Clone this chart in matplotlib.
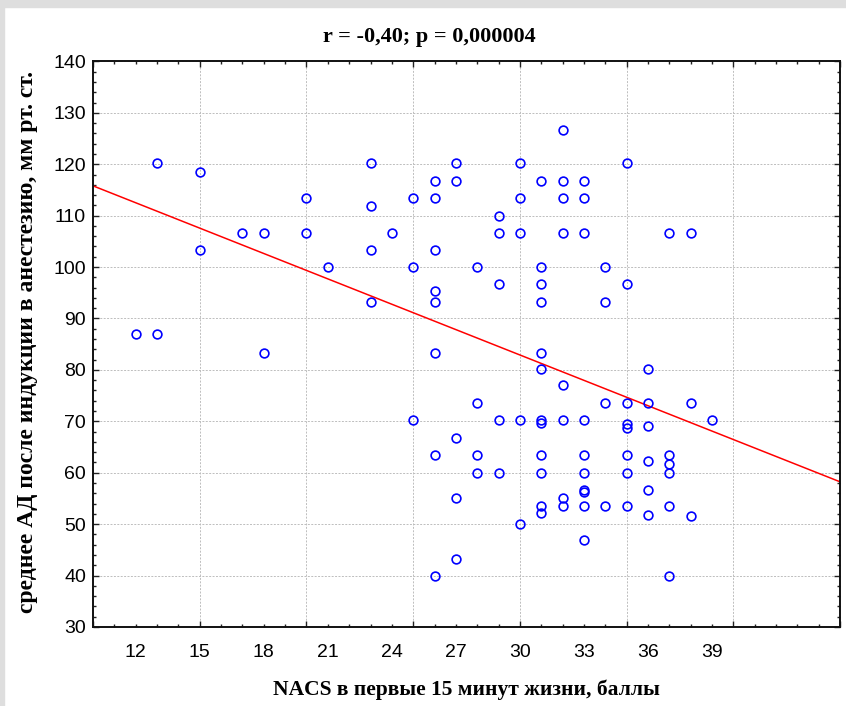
# scatter of NACS score vs mean BP after induction, with linear fit

import numpy as np
import matplotlib
matplotlib.use("Agg")
import matplotlib.pyplot as plt
from matplotlib.patches import Rectangle

# ============================================================
# DATA
# ============================================================

NACS = [12, 13, 13, 15, 15, 17, 18, 18, 20, 20,
        21, 23, 23, 23, 23, 24, 25, 25, 25, 26,
        26, 26, 26, 26, 26, 26, 26, 27, 27, 27,
        27, 27, 28, 28, 28, 28, 29, 29, 29, 29,
        29, 30, 30, 30, 30, 30, 31, 31, 31, 31,
        31, 31, 31, 31, 31, 31, 31, 31, 32, 32,
        32, 32, 32, 32, 32, 32, 33, 33, 33, 33,
        33, 33, 33, 33, 33, 33, 34, 34, 34, 34,
        35, 35, 35, 35, 35, 35, 35, 35, 36, 36,
        36, 36, 36, 36, 37, 37, 37, 37, 37, 37,
        38, 38, 38, 39]

MEAN_BP = [87.0, 87.0, 120.2, 118.5, 103.3, 106.7, 106.7, 83.3, 113.5, 106.7,
           100.0, 120.2, 111.8, 103.3, 93.3, 106.7, 113.5, 100.0, 70.2, 116.7,
           113.5, 103.3, 95.4, 93.3, 83.3, 63.5, 40.0, 120.2, 116.7, 66.7,
           55.0, 43.3, 100.0, 73.5, 63.5, 60.0, 110.0, 106.7, 96.8, 70.2,
           60.0, 120.2, 113.5, 106.7, 70.2, 50.0, 116.7, 100.0, 96.8, 93.3,
           83.3, 80.2, 70.2, 69.7, 63.5, 60.0, 53.6, 52.1, 126.7, 116.7,
           113.5, 106.7, 77.0, 70.2, 55.0, 53.6, 116.7, 113.5, 106.7, 70.2,
           63.5, 60.0, 56.7, 56.2, 53.6, 46.9, 100.0, 93.3, 73.5, 53.6,
           120.2, 96.8, 73.5, 69.4, 68.7, 63.5, 60.0, 53.6, 80.2, 73.5,
           69.1, 62.3, 56.7, 51.8, 106.7, 63.5, 61.7, 60.0, 53.6, 40.0,
           106.7, 73.5, 51.5, 70.2]

X_TICK_LABELS = [12, 15, 18, 21, 24, 27, 30, 33, 36, 39]

TITLE  = "r = -0,40; p = 0,000004"
XLABEL = "NACS в первые 15 минут жизни, баллы"
YLABEL = "среднее АД после индукции в анестезию, мм рт. ст."

SERIF = ["Liberation Serif", "DejaVu Serif"]
SANS  = ["Liberation Sans", "DejaVu Sans"]


def main():
    x = np.asarray(NACS, dtype=float)
    y = np.asarray(MEAN_BP, dtype=float)

    slope, intercept = np.polyfit(x, y, 1)
    print(f"fit: y = {intercept:.2f} + {slope:.3f} x | r = {np.corrcoef(x, y)[0, 1]:.3f}")

    fig = plt.figure(figsize=(8.46, 7.06), dpi=100)
    fig.patch.set_facecolor("white")
    # grey window frame on the left and top edge
    fig.patches.append(Rectangle((0, 0), 4 / 846, 1, transform=fig.transFigure,
                                 color="#dedede", zorder=0))
    fig.patches.append(Rectangle((0, 1 - 7 / 706), 1, 7 / 706, transform=fig.transFigure,
                                 color="#dedede", zorder=0))

    ax = fig.add_axes([0.110, 0.112, 0.883, 0.801])

    xl = np.array([10, 45])
    ax.plot(xl, intercept + slope * xl, color="red", lw=1.1, zorder=2)
    ax.plot(x, y, linestyle="none", marker="o", ms=6.3, mfc="none",
            mec="#0000ff", mew=1.2, zorder=3)

    ax.set_xlim(10, 45)
    ax.set_ylim(30, 140)

    ax.set_xticks(np.arange(10, 46, 5))
    ax.set_xticks(np.arange(10, 46, 1), minor=True)
    ax.set_yticks(np.arange(30, 141, 10))
    ax.set_yticks(np.arange(30, 141, 2), minor=True)
    ax.tick_params(which="both", direction="in", top=True, right=True,
                   labelbottom=False, width=1, color="#222222")
    ax.tick_params(which="major", length=4)
    ax.tick_params(which="minor", length=2.2)
    ax.tick_params(axis="y", labelsize=14, pad=5)
    for lab in ax.get_yticklabels():
        lab.set_family(SANS)

    ax.grid(True, which="major", color="#bdbdbd", linestyle=(0, (2, 1.5)), lw=0.7)
    ax.set_axisbelow(True)

    # the tick labels sit on a separate scale from the grid
    sec = ax.secondary_xaxis("bottom")
    sec.set_xticks(X_TICK_LABELS)
    sec.tick_params(length=0, pad=12, labelsize=14)
    sec.spines["bottom"].set_visible(False)
    for lab in sec.get_xticklabels():
        lab.set_family(SANS)

    for s in ax.spines.values():
        s.set_linewidth(1.4)
        s.set_color("#111111")

    fig.text(0.508, 0.948, TITLE, ha="center", va="center", fontsize=16,
             fontweight="bold", family=SERIF)
    fig.text(0.551, 0.023, XLABEL, ha="center", va="center", fontsize=15.5,
             fontweight="bold", family=SERIF)
    fig.text(0.033, 0.515, YLABEL, ha="center", va="center", rotation=90,
             fontsize=17, fontweight="bold", family=SERIF)

    fig.savefig("out.png", dpi=100)


if __name__ == "__main__":
    main()
